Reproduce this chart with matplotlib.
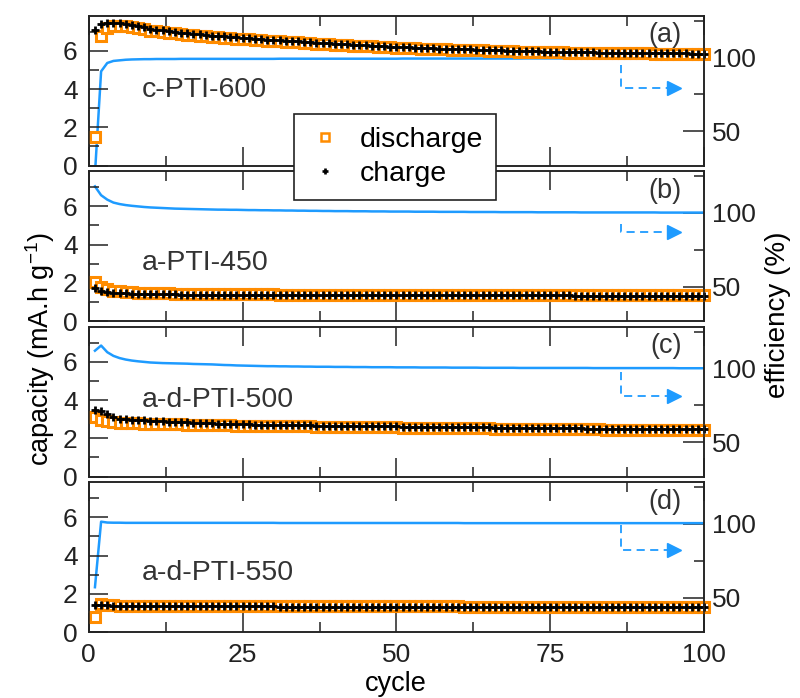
import numpy as np
import matplotlib
matplotlib.use('Agg')
import matplotlib.pyplot as plt
from matplotlib.lines import Line2D
from matplotlib.ticker import MultipleLocator

plt.rcParams['font.family'] = ['Liberation Sans', 'DejaVu Sans']
plt.rcParams['mathtext.fontset'] = 'custom'
plt.rcParams['mathtext.rm'] = 'Liberation Sans'
plt.rcParams['mathtext.default'] = 'regular'

ORANGE = '#FF8C00'
BLUE = '#1E9BFF'
INK = '#222222'

CYCLE = np.arange(1, 101)
SAMPLES = ['c-PTI-600', 'a-PTI-450', 'a-d-PTI-500', 'a-d-PTI-550']
TAGS = ['(a)', '(b)', '(c)', '(d)']

# capacity (mA.h/g) per cycle, panels a-d
CHARGE_A = [7.10, 7.40, 7.48, 7.48, 7.45, 7.40, 7.34, 7.28, 7.22, 7.15,
            7.11, 7.07, 7.03, 6.99, 6.95, 6.92, 6.89, 6.86, 6.83, 6.80,
            6.78, 6.75, 6.73, 6.70, 6.68, 6.66, 6.64, 6.62, 6.59, 6.57,
            6.55, 6.53, 6.51, 6.49, 6.47, 6.45, 6.43, 6.41, 6.39, 6.37,
            6.35, 6.34, 6.32, 6.30, 6.29, 6.27, 6.25, 6.24, 6.22, 6.20,
            6.19, 6.18, 6.16, 6.15, 6.14, 6.13, 6.12, 6.11, 6.10, 6.09,
            6.08, 6.07, 6.06, 6.05, 6.04, 6.03, 6.02, 6.01, 6.00, 5.99,
            5.98, 5.98, 5.97, 5.96, 5.95, 5.95, 5.94, 5.94, 5.93, 5.93,
            5.92, 5.92, 5.91, 5.91, 5.90, 5.90, 5.89, 5.89, 5.88, 5.88,
            5.88, 5.87, 5.87, 5.87, 5.86, 5.86, 5.86, 5.85, 5.85, 5.85]
DISCHARGE_A = [1.47, 6.75, 7.20, 7.30, 7.30, 7.28, 7.23, 7.18, 7.12, 7.06,
               7.03, 6.99, 6.95, 6.91, 6.88, 6.85, 6.82, 6.79, 6.76, 6.73,
               6.71, 6.68, 6.66, 6.64, 6.62, 6.60, 6.58, 6.56, 6.53, 6.51,
               6.50, 6.48, 6.46, 6.44, 6.42, 6.40, 6.38, 6.36, 6.34, 6.32,
               6.31, 6.29, 6.27, 6.26, 6.24, 6.23, 6.21, 6.20, 6.18, 6.16,
               6.15, 6.14, 6.13, 6.11, 6.10, 6.09, 6.08, 6.07, 6.06, 6.05,
               6.05, 6.04, 6.03, 6.02, 6.01, 6.00, 5.99, 5.98, 5.97, 5.96,
               5.96, 5.95, 5.94, 5.94, 5.93, 5.92, 5.92, 5.91, 5.91, 5.90,
               5.90, 5.89, 5.89, 5.88, 5.88, 5.88, 5.87, 5.87, 5.86, 5.86,
               5.86, 5.85, 5.85, 5.85, 5.84, 5.84, 5.84, 5.83, 5.83, 5.83]
EFF_A = [21.0, 90.5, 96.2, 97.6, 98.0, 98.4, 98.6, 98.7, 98.8, 98.8,
         98.9, 98.9, 98.9, 98.9, 99.0, 99.0, 99.0, 99.0, 99.0, 99.0,
         99.0, 99.0, 99.0, 99.0, 99.0, 99.0, 99.0, 99.0, 99.0, 99.0,
         99.1, 99.1, 99.1, 99.1, 99.1, 99.1, 99.1, 99.1, 99.1, 99.1,
         99.1, 99.1, 99.1, 99.1, 99.1, 99.1, 99.1, 99.1, 99.1, 99.1,
         99.2, 99.2, 99.2, 99.2, 99.2, 99.2, 99.2, 99.2, 99.2, 99.2,
         99.2, 99.2, 99.2, 99.2, 99.2, 99.2, 99.2, 99.2, 99.2, 99.2,
         99.3, 99.3, 99.3, 99.3, 99.3, 99.3, 99.3, 99.3, 99.3, 99.3,
         99.3, 99.3, 99.3, 99.3, 99.3, 99.4, 99.4, 99.4, 99.4, 99.4,
         99.4, 99.4, 99.4, 99.4, 99.4, 99.5, 99.5, 99.5, 99.5, 99.5]

CHARGE_B = [1.72, 1.58, 1.52, 1.48, 1.46, 1.44, 1.43, 1.42, 1.41, 1.40,
            1.40, 1.39, 1.39, 1.39, 1.38, 1.38, 1.38, 1.38, 1.37, 1.37,
            1.37, 1.37, 1.37, 1.37, 1.36, 1.36, 1.36, 1.36, 1.36, 1.36,
            1.36, 1.36, 1.36, 1.36, 1.36, 1.36, 1.35, 1.35, 1.35, 1.35,
            1.35, 1.35, 1.35, 1.35, 1.35, 1.35, 1.35, 1.35, 1.35, 1.35,
            1.35, 1.35, 1.35, 1.35, 1.35, 1.34, 1.34, 1.34, 1.34, 1.34,
            1.34, 1.34, 1.34, 1.34, 1.34, 1.34, 1.34, 1.34, 1.34, 1.34,
            1.34, 1.34, 1.34, 1.34, 1.34, 1.34, 1.34, 1.34, 1.33, 1.33,
            1.33, 1.33, 1.33, 1.33, 1.33, 1.33, 1.33, 1.33, 1.33, 1.33,
            1.33, 1.33, 1.33, 1.33, 1.33, 1.33, 1.33, 1.33, 1.33, 1.33]
DISCHARGE_B = [2.05, 1.77, 1.66, 1.58, 1.55, 1.52, 1.50, 1.48, 1.47, 1.46,
               1.45, 1.44, 1.44, 1.43, 1.42, 1.42, 1.42, 1.41, 1.41, 1.40,
               1.40, 1.40, 1.40, 1.40, 1.39, 1.39, 1.39, 1.39, 1.39, 1.39,
               1.38, 1.38, 1.38, 1.38, 1.38, 1.38, 1.37, 1.37, 1.37, 1.37,
               1.37, 1.37, 1.37, 1.37, 1.37, 1.36, 1.36, 1.36, 1.36, 1.36,
               1.36, 1.36, 1.36, 1.36, 1.36, 1.35, 1.35, 1.35, 1.35, 1.35,
               1.35, 1.35, 1.35, 1.35, 1.35, 1.35, 1.35, 1.35, 1.35, 1.35,
               1.35, 1.35, 1.35, 1.35, 1.35, 1.35, 1.35, 1.35, 1.34, 1.34,
               1.34, 1.34, 1.34, 1.34, 1.34, 1.34, 1.34, 1.34, 1.34, 1.34,
               1.34, 1.34, 1.34, 1.34, 1.34, 1.34, 1.34, 1.34, 1.34, 1.34]
EFF_B = [118.0, 112.0, 109.0, 107.0, 106.0, 105.3, 104.8, 104.4, 104.0, 103.7,
         103.5, 103.3, 103.1, 102.9, 102.8, 102.7, 102.6, 102.5, 102.4, 102.3,
         102.2, 102.2, 102.1, 102.1, 102.0, 101.9, 101.9, 101.8, 101.8, 101.7,
         101.7, 101.6, 101.6, 101.5, 101.5, 101.4, 101.4, 101.3, 101.3, 101.2,
         101.2, 101.2, 101.1, 101.1, 101.1, 101.0, 101.0, 101.0, 100.9, 100.9,
         100.9, 100.9, 100.8, 100.8, 100.8, 100.8, 100.7, 100.7, 100.7, 100.7,
         100.7, 100.6, 100.6, 100.6, 100.6, 100.6, 100.5, 100.5, 100.5, 100.5,
         100.5, 100.5, 100.4, 100.4, 100.4, 100.4, 100.4, 100.4, 100.4, 100.3,
         100.3, 100.3, 100.3, 100.3, 100.3, 100.3, 100.3, 100.3, 100.3, 100.3,
         100.3, 100.3, 100.2, 100.2, 100.2, 100.2, 100.2, 100.2, 100.2, 100.2]

CHARGE_C = [3.50, 3.45, 3.25, 3.10, 3.03, 3.00, 2.97, 2.95, 2.93, 2.91,
            2.90, 2.88, 2.87, 2.85, 2.84, 2.83, 2.82, 2.80, 2.79, 2.78,
            2.77, 2.76, 2.75, 2.73, 2.72, 2.72, 2.71, 2.71, 2.70, 2.70,
            2.69, 2.69, 2.68, 2.68, 2.67, 2.67, 2.66, 2.66, 2.65, 2.65,
            2.65, 2.64, 2.64, 2.64, 2.63, 2.63, 2.63, 2.62, 2.62, 2.62,
            2.61, 2.61, 2.61, 2.60, 2.60, 2.60, 2.59, 2.59, 2.59, 2.58,
            2.58, 2.58, 2.57, 2.57, 2.57, 2.56, 2.56, 2.56, 2.55, 2.55,
            2.55, 2.54, 2.54, 2.54, 2.53, 2.53, 2.53, 2.52, 2.52, 2.52,
            2.51, 2.51, 2.51, 2.50, 2.50, 2.50, 2.49, 2.49, 2.49, 2.48,
            2.48, 2.48, 2.48, 2.47, 2.47, 2.47, 2.47, 2.46, 2.46, 2.46]
DISCHARGE_C = [3.12, 2.95, 2.88, 2.83, 2.81, 2.80, 2.79, 2.78, 2.77, 2.77,
               2.76, 2.75, 2.74, 2.73, 2.72, 2.71, 2.71, 2.70, 2.69, 2.69,
               2.68, 2.68, 2.67, 2.66, 2.66, 2.65, 2.65, 2.64, 2.64, 2.64,
               2.63, 2.63, 2.63, 2.62, 2.62, 2.62, 2.61, 2.61, 2.60, 2.60,
               2.60, 2.59, 2.59, 2.59, 2.58, 2.58, 2.58, 2.57, 2.57, 2.57,
               2.56, 2.56, 2.56, 2.55, 2.55, 2.55, 2.54, 2.54, 2.54, 2.53,
               2.53, 2.53, 2.52, 2.52, 2.52, 2.51, 2.51, 2.51, 2.50, 2.50,
               2.50, 2.49, 2.49, 2.49, 2.48, 2.48, 2.48, 2.47, 2.47, 2.47,
               2.46, 2.46, 2.46, 2.45, 2.45, 2.45, 2.44, 2.44, 2.44, 2.43,
               2.43, 2.43, 2.43, 2.42, 2.42, 2.42, 2.42, 2.41, 2.41, 2.41]
EFF_C = [112.0, 115.5, 111.0, 108.5, 107.0, 106.0, 105.3, 104.8, 104.4, 104.0,
         103.8, 103.6, 103.5, 103.4, 103.3, 103.2, 103.0, 102.9, 102.8, 102.7,
         102.5, 102.3, 102.2, 102.0, 101.9, 101.8, 101.7, 101.6, 101.5, 101.5,
         101.4, 101.4, 101.3, 101.3, 101.2, 101.2, 101.1, 101.1, 101.1, 101.0,
         101.0, 101.0, 100.9, 100.9, 100.9, 100.8, 100.8, 100.8, 100.8, 100.7,
         100.7, 100.7, 100.7, 100.6, 100.6, 100.6, 100.6, 100.6, 100.5, 100.5,
         100.5, 100.5, 100.5, 100.4, 100.4, 100.4, 100.4, 100.4, 100.4, 100.3,
         100.3, 100.3, 100.3, 100.3, 100.3, 100.3, 100.3, 100.3, 100.3, 100.3,
         100.3, 100.2, 100.2, 100.2, 100.2, 100.2, 100.2, 100.2, 100.2, 100.2,
         100.2, 100.2, 100.2, 100.2, 100.2, 100.1, 100.1, 100.1, 100.1, 100.1]

CHARGE_D = [1.40, 1.42, 1.40, 1.38, 1.37, 1.36, 1.36, 1.35, 1.35, 1.35,
            1.34, 1.34, 1.34, 1.34, 1.34, 1.34, 1.34, 1.34, 1.34, 1.34,
            1.34, 1.34, 1.34, 1.34, 1.34, 1.34, 1.34, 1.34, 1.34, 1.34,
            1.33, 1.33, 1.33, 1.33, 1.33, 1.33, 1.33, 1.33, 1.33, 1.33,
            1.33, 1.33, 1.33, 1.33, 1.33, 1.33, 1.33, 1.33, 1.33, 1.33,
            1.33, 1.33, 1.33, 1.33, 1.33, 1.33, 1.33, 1.33, 1.33, 1.33,
            1.32, 1.32, 1.32, 1.32, 1.32, 1.32, 1.32, 1.32, 1.32, 1.32,
            1.32, 1.32, 1.32, 1.32, 1.32, 1.32, 1.32, 1.32, 1.32, 1.32,
            1.32, 1.32, 1.32, 1.32, 1.32, 1.32, 1.32, 1.32, 1.32, 1.32,
            1.32, 1.32, 1.32, 1.32, 1.32, 1.32, 1.32, 1.32, 1.32, 1.32]
DISCHARGE_D = [0.80, 1.44, 1.41, 1.39, 1.38, 1.37, 1.37, 1.36, 1.36, 1.36,
               1.35, 1.35, 1.35, 1.35, 1.35, 1.35, 1.35, 1.35, 1.35, 1.35,
               1.35, 1.35, 1.35, 1.35, 1.35, 1.35, 1.35, 1.35, 1.35, 1.35,
               1.34, 1.34, 1.34, 1.34, 1.34, 1.34, 1.34, 1.34, 1.34, 1.34,
               1.34, 1.34, 1.34, 1.34, 1.34, 1.34, 1.34, 1.34, 1.34, 1.34,
               1.34, 1.34, 1.34, 1.34, 1.34, 1.34, 1.34, 1.34, 1.34, 1.34,
               1.33, 1.33, 1.33, 1.33, 1.33, 1.33, 1.33, 1.33, 1.33, 1.33,
               1.33, 1.33, 1.33, 1.33, 1.33, 1.33, 1.33, 1.33, 1.33, 1.33,
               1.33, 1.33, 1.33, 1.33, 1.33, 1.33, 1.33, 1.33, 1.33, 1.33,
               1.33, 1.33, 1.33, 1.33, 1.33, 1.33, 1.33, 1.33, 1.33, 1.33]
EFF_D = [57.0, 101.5, 100.9, 100.8, 100.8, 100.7, 100.7, 100.7, 100.7, 100.7,
         100.7, 100.7, 100.7, 100.7, 100.7, 100.7, 100.7, 100.7, 100.7, 100.7,
         100.7, 100.7, 100.7, 100.7, 100.7, 100.7, 100.7, 100.7, 100.7, 100.7,
         100.6, 100.6, 100.6, 100.6, 100.6, 100.6, 100.6, 100.6, 100.6, 100.6,
         100.6, 100.6, 100.6, 100.6, 100.6, 100.6, 100.6, 100.6, 100.6, 100.6,
         100.6, 100.6, 100.6, 100.6, 100.6, 100.6, 100.6, 100.6, 100.6, 100.6,
         100.5, 100.5, 100.5, 100.5, 100.5, 100.5, 100.5, 100.5, 100.5, 100.5,
         100.5, 100.5, 100.5, 100.5, 100.5, 100.5, 100.5, 100.5, 100.5, 100.5,
         100.5, 100.5, 100.5, 100.5, 100.5, 100.5, 100.5, 100.5, 100.5, 100.5,
         100.5, 100.5, 100.5, 100.5, 100.5, 100.5, 100.5, 100.5, 100.5, 100.5]

CHARGE = [CHARGE_A, CHARGE_B, CHARGE_C, CHARGE_D]
DISCHARGE = [DISCHARGE_A, DISCHARGE_B, DISCHARGE_C, DISCHARGE_D]
EFFICIENCY = [EFF_A, EFF_B, EFF_C, EFF_D]

# sample name position (cycle, capacity) and "right axis" arrow (axes fraction)
NAME_POS = [(8.6, 3.95), (8.6, 3.05), (8.6, 4.0), (8.6, 3.1)]
ARROW_Y = [(0.671, 0.517), (0.649, 0.595), (0.700, 0.536), (0.718, 0.550)]

fig, axes = plt.subplots(4, 1, figsize=(8.0, 6.98), dpi=100, sharex=True)
fig.subplots_adjust(left=0.111, right=0.88, top=1 - 16 / 698, bottom=1 - 632 / 698,
                    hspace=0.04)

for k, ax in enumerate(axes):
    ax2 = ax.twinx()
    ax2.plot(CYCLE, EFFICIENCY[k], color=BLUE, lw=1.8, solid_joinstyle='round')
    ax2.set_ylim(26.6, 128.1)
    ax2.yaxis.set_major_locator(MultipleLocator(50))
    ax2.yaxis.set_minor_locator(MultipleLocator(25))
    ax2.tick_params(which='both', direction='in', right=True, left=False,
                    labelsize=19, colors=INK, pad=6, width=1.1)
    ax2.tick_params(which='major', length=15)
    ax2.tick_params(which='minor', length=7)

    ax.set_zorder(ax2.get_zorder() + 1)
    ax.patch.set_visible(False)
    ax.plot(CYCLE, DISCHARGE[k], ls='none', marker='s', ms=7.0, mew=2.2,
            mec=ORANGE, mfc='white', clip_on=False)
    ax.plot(CYCLE, CHARGE[k], ls='none', marker='+', ms=6, mew=2.0,
            color='black', clip_on=False)

    ax.set_xlim(0, 100)
    ax.set_ylim(0, 7.82)
    ax.xaxis.set_major_locator(MultipleLocator(25))
    ax.xaxis.set_minor_locator(MultipleLocator(12.5))
    ax.yaxis.set_major_locator(MultipleLocator(2))
    ax.yaxis.set_minor_locator(MultipleLocator(1))
    ax.tick_params(which='both', direction='in', top=True, right=False,
                   labelsize=19, colors=INK, pad=8, width=1.1)
    ax.tick_params(which='major', length=14)
    ax.tick_params(which='minor', length=7)
    for sp in list(ax.spines.values()) + list(ax2.spines.values()):
        sp.set_linewidth(1.1)
        sp.set_color(INK)

    ax.text(NAME_POS[k][0], NAME_POS[k][1], SAMPLES[k], fontsize=20.5,
            color='#333333', ha='left', va='center')
    ax.text(0.964, 0.87, TAGS[k], transform=ax.transAxes, fontsize=19.5,
            color='#333333', ha='right', va='center')

    # dashed elbow arrow pointing to the efficiency axis
    y_top, y_h = ARROW_Y[k]
    ax.plot([0.865, 0.865, 0.942], [y_top, y_h, y_h], transform=ax.transAxes,
            color=BLUE, lw=1.3, dashes=(4.5, 3), clip_on=False)
    ax.plot([0.951], [y_h], transform=ax.transAxes, marker='>', ms=10,
            color=BLUE, mec=BLUE, ls='none')

axes[-1].set_xticks([0, 25, 50, 75, 100])

fig.text(0.05, 0.50, 'capacity (mA.h g$^{-1}$)', rotation=90, fontsize=19.5,
         ha='center', va='center')
fig.text(0.972, 0.549, 'efficiency (%)', rotation=90, fontsize=20,
         ha='center', va='center')
fig.text(0.495, 0.02, 'cycle', fontsize=19.5, ha='center', va='center')

handles = [Line2D([], [], ls='none', marker='s', ms=5.5, mew=1.8, mec=ORANGE,
                  mfc='white'),
           Line2D([], [], ls='none', marker='+', ms=5, mew=1.9, color='black')]
leg = fig.legend(handles, ['discharge', 'charge'], loc='upper left',
                 bbox_to_anchor=(0.3675, 0.8367), fontsize=20.5, frameon=True,
                 fancybox=False, framealpha=1, edgecolor=INK, borderpad=0.45,
                 handlelength=1.3, handletextpad=0.55, labelspacing=0.3,
                 borderaxespad=0)
leg.get_frame().set_linewidth(1.2)

fig.savefig('out.png', dpi=100)
